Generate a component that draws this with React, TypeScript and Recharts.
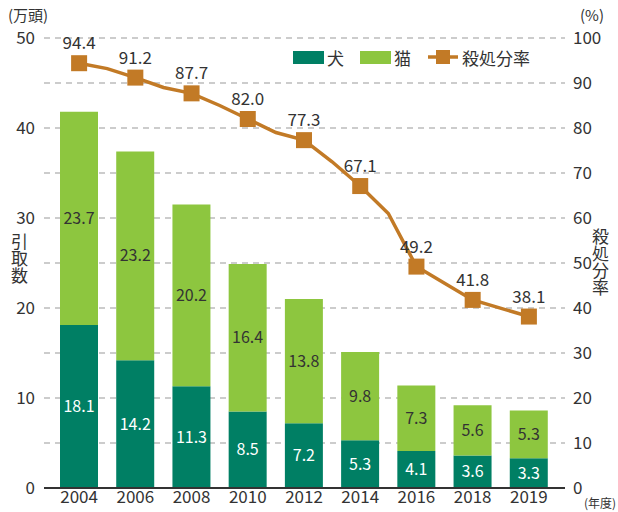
import React from 'react';
import { ComposedChart, Bar, Line, XAxis, YAxis, CartesianGrid, LabelList } from 'recharts';

const years = ['2004', '2006', '2008', '2010', '2012', '2014', '2016', '2018', '2019'];
const dogs = [18.1, 14.2, 11.3, 8.5, 7.2, 5.3, 4.1, 3.6, 3.3];
const cats = [23.7, 23.2, 20.2, 16.4, 13.8, 9.8, 7.3, 5.6, 5.3];
const rateYears = [2004, 2005, 2006, 2007, 2008, 2009, 2010, 2011, 2012, 2013, 2014, 2015, 2016, 2017, 2018, 2019];
const rates = [94.4, 93.2, 91.2, 89.0, 87.7, 85.0, 82.0, 79.0, 77.3, 72.5, 67.1, 61.0, 49.2, 45.5, 41.8, 38.1];
const leftTicks = [0, 10, 20, 30, 40, 50];
const rightTicks = [0, 10, 20, 30, 40, 50, 60, 70, 80, 90, 100];

const DOG = '#007F64';
const CAT = '#8DC63F';
const LINE = '#C27A26';
const TEXT = '#333333';
const FONT = '"Noto Sans CJK JP", "Noto Sans", sans-serif';

const barData = years.map((y, i) => ({ year: y, dog: dogs[i], cat: cats[i] }));
const lineData = rateYears.map((y, i) => ({
  pos: years.indexOf(String(y)) >= 0 ? years.indexOf(String(y)) : (y - 2004) / 2,
  rate: rates[i],
  mark: years.includes(String(y)),
}));

const renderDot = (p: any) => {
  const { cx, cy, index, payload } = p;
  if (!payload || !payload.mark) return <g key={`d${index}`} />;
  return <rect key={`d${index}`} x={cx - 8} y={cy - 8} width={16} height={16} fill={LINE} />;
};

const renderLineLabel = (p: any) => {
  const { x, y, index, value } = p;
  if (!lineData[index] || !lineData[index].mark) return null;
  return (
    <text key={`l${index}`} x={x} y={y - 14} textAnchor="middle" fill={TEXT} fontSize={17} fontFamily={FONT}>
      {Number(value).toFixed(1)}
    </text>
  );
};

const txt: React.CSSProperties = { position: 'absolute', fontFamily: FONT, color: TEXT, fontSize: 15, lineHeight: 1, whiteSpace: 'nowrap' };

export default function App() {
  return (
    <div style={{ position: 'absolute', left: 0, top: 0, width: 618, height: 512, background: '#fff', overflow: 'hidden' }}>
      <ComposedChart
        width={618}
        height={512}
        data={barData}
        margin={{ top: 38, right: 0, bottom: 0, left: 0 }}
        style={{ fontFamily: FONT }}
      >
        <CartesianGrid yAxisId="r" vertical={false} stroke="#9a9a9a" strokeDasharray="6 5" strokeWidth={1.2} />
        <XAxis
          xAxisId="cat"
          dataKey="year"
          type="category"
          padding={{ left: 7, right: 8 }}
          height={24}
          tickLine={false}
          tickSize={0}
          tickMargin={3}
          axisLine={{ stroke: TEXT, strokeWidth: 2 }}
          tick={{ fill: TEXT, fontSize: 17 }}
          interval={0}
        />
        <XAxis
          xAxisId="num"
          dataKey="pos"
          type="number"
          domain={[-0.5, 8.5]}
          padding={{ left: 7, right: 8 }}
          hide
        />
        <YAxis
          yAxisId="l"
          orientation="left"
          domain={[0, 50]}
          ticks={leftTicks}
          width={44}
          axisLine={false}
          tickLine={false}
          tickSize={0}
          tickMargin={9}
          tick={{ fill: TEXT, fontSize: 17 }}
        />
        <YAxis
          yAxisId="r"
          orientation="right"
          domain={[0, 100]}
          ticks={rightTicks}
          width={53}
          axisLine={false}
          tickLine={false}
          tickSize={0}
          tickMargin={8}
          tick={{ fill: TEXT, fontSize: 17, textAnchor: 'start' }}
        />
        <Bar xAxisId="cat" yAxisId="l" dataKey="dog" stackId="s" fill={DOG} barSize={38} isAnimationActive={false}>
          <LabelList dataKey="dog" position="center" fill="#ffffff" fontSize={16} formatter={(v: any) => Number(v).toFixed(1)} />
        </Bar>
        <Bar xAxisId="cat" yAxisId="l" dataKey="cat" stackId="s" fill={CAT} barSize={38} isAnimationActive={false}>
          <LabelList dataKey="cat" position="center" fill={TEXT} fontSize={16} formatter={(v: any) => Number(v).toFixed(1)} />
        </Bar>
        <Line
          xAxisId="num"
          yAxisId="r"
          data={lineData}
          dataKey="rate"
          type="linear"
          stroke={LINE}
          strokeWidth={3.5}
          dot={renderDot}
          activeDot={false}
          isAnimationActive={false}
        >
          <LabelList dataKey="rate" content={renderLineLabel} />
        </Line>
      </ComposedChart>

      <div style={{ ...txt, left: 8, top: 7 }}>(万頭)</div>
      <div style={{ ...txt, left: 580, top: 7 }}>(%)</div>
      <div style={{ ...txt, left: 584, top: 497, fontSize: 12 }}>(年度)</div>
      <div style={{ ...txt, left: 11, top: 233, writingMode: 'vertical-rl', fontSize: 17, whiteSpace: 'normal' }}>引取数</div>
      <div style={{ ...txt, left: 592, top: 228, writingMode: 'vertical-rl', fontSize: 17, whiteSpace: 'normal' }}>殺処分率</div>

      <div style={{ position: 'absolute', left: 293, top: 48, height: 18, display: 'flex', alignItems: 'center', fontFamily: FONT, color: TEXT, fontSize: 17 }}>
        <span style={{ display: 'inline-block', width: 31, height: 13, background: DOG }} />
        <span style={{ marginLeft: 3 }}>犬</span>
        <span style={{ display: 'inline-block', width: 31, height: 13, background: CAT, marginLeft: 16 }} />
        <span style={{ marginLeft: 3 }}>猫</span>
        <svg width={30} height={18} style={{ marginLeft: 17 }}>
          <line x1={0} y1={9} x2={30} y2={9} stroke={LINE} strokeWidth={3.5} />
          <rect x={8} y={2} width={14} height={14} fill={LINE} />
        </svg>
        <span style={{ marginLeft: 4 }}>殺処分率</span>
      </div>
    </div>
  );
}
